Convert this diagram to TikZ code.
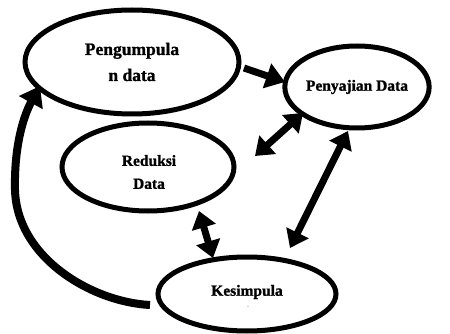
\documentclass[tikz,border=0pt]{standalone}
\usepackage{fontspec}
\setmainfont[BoldFeatures={FakeBold=1.2}]{Liberation Serif}
\usetikzlibrary{shapes.geometric,arrows.meta}
\begin{document}
\begin{tikzpicture}[x=1pt,y=-1pt,
  oval/.style={draw=black,line width=5pt,ellipse,inner sep=0pt,align=center,font=\bfseries},
  conn/.style={line width=7pt,-{Triangle[length=19pt,width=25pt]}},
  dconn/.style={line width=7pt,{Triangle[length=17pt,width=24pt]}-{Triangle[length=17pt,width=24pt]}},
  loopconn/.style={line width=8pt,-{Triangle[length=19pt,width=26pt]}}]
\useasboundingbox (0,0) rectangle (450,334);
\node[oval,minimum width=214pt,minimum height=104pt,font=\bfseries\fontsize{17.5}{26}\selectfont] (peng) at (132,62) {Pengumpula\\n data};
\node[oval,minimum width=140pt,minimum height=82pt,font=\bfseries\fontsize{15.5}{20}\selectfont] (peny) at (357,87) {Penyajian Data};
\node[oval,minimum width=172pt,minimum height=88pt] (red) at (148,167) {};
\node[font=\bfseries\fontsize{15.5}{23}\selectfont,align=center] (redt) at (149,172) {Reduksi\\Data};
\node[oval,minimum width=178pt,minimum height=74pt] (kes) at (247,294) {};
\node[font=\bfseries\fontsize{15.5}{20}\selectfont] (kest) at (247,292) {Kesimpula};
\node[font=\fontsize{4}{4}\selectfont] (kesd) at (248,307) {--};
% arrow endpoints
\coordinate (a1) at (244,68);
\coordinate (a2) at (285,82);
\coordinate (b1) at (255,156);
\coordinate (b2) at (303,113);
\coordinate (c1) at (348,131);
\coordinate (c2) at (290,248);
\coordinate (d1) at (199,211);
\coordinate (d2) at (213,258);
\coordinate (e1) at (150,305);
\coordinate (e2) at (40,86);
\draw[conn] (a1) -- (a2);
\draw[dconn] (b1) -- (b2);
\draw[dconn] (c1) -- (c2);
\draw[dconn] (d1) -- (d2);
\draw[loopconn] (e1) .. controls (92,302) and (17,258) .. (15,190) .. controls (14,145) and (24,115) .. (e2);
\end{tikzpicture}
\end{document}
